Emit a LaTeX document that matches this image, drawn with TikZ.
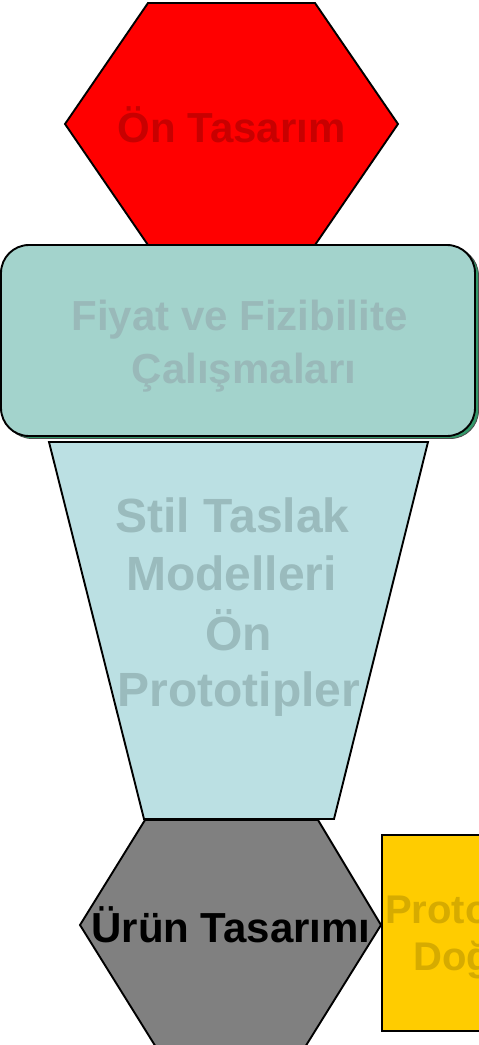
\documentclass[tikz,border=0pt]{standalone}
\usepackage{fontspec}
\setmainfont{Liberation Sans}
\definecolor{hexred}{HTML}{FF0000}
\definecolor{hexredtxt}{HTML}{C80000}
\definecolor{tealbox}{HTML}{A3D3CC}
\definecolor{tealshadow}{HTML}{33996A}
\definecolor{tealtxt}{HTML}{99B9B9}
\definecolor{funnel}{HTML}{BBE0E3}
\definecolor{funneltxt}{HTML}{9ABBBD}
\definecolor{hexgrey}{HTML}{808080}
\definecolor{goldbox}{HTML}{FFCC00}
\definecolor{goldtxt}{HTML}{D6AB00}
\begin{document}
\begin{tikzpicture}[x=1pt,y=-1pt,
  outline/.style={draw=black, line width=1.9pt, line join=miter},
  lbl/.style={anchor=base, inner sep=0pt, font=\bfseries\fontsize{42}{50}\selectfont},
  biglbl/.style={anchor=base, inner sep=0pt, font=\bfseries\fontsize{48}{58}\selectfont},
  sidelbl/.style={anchor=base west, inner sep=0pt, font=\bfseries\fontsize{40}{48}\selectfont, text=goldtxt}]
\useasboundingbox (0,0) rectangle (479,1045);
\clip (0,0) rectangle (479,1045);

% preliminary design hexagon
\draw[outline, fill=hexred] (148,3) -- (315,3) -- (398,124) -- (315,245) -- (148,245) -- (65,124) -- cycle;
\node[lbl, text=hexredtxt] (pre) at (231.5,142) {Ön Tasarım};

% cost and feasibility box with its shadow
\draw[fill=tealshadow, draw=black!70, line width=0.8pt, rounded corners=28pt] (4,247.5) rectangle (478.5,438.5);
\draw[outline, fill=tealbox, rounded corners=28pt] (1,245) rectangle (475,436);
\node[lbl, text=tealtxt] (fiz1) at (239.5,330) {Fiyat ve Fizibilite};
\node[lbl, text=tealtxt] (fiz2) at (244,383) {Çalışmaları};

% funnel of style models and prototypes
\draw[outline, fill=funnel] (49,442) -- (428,442) -- (334,819) -- (144,819) -- cycle;
\node[biglbl, text=funneltxt] (sty1) at (232.5,532) {Stil Taslak};
\node[biglbl, text=funneltxt] (sty2) at (231.5,590) {Modelleri};
\node[biglbl, text=funneltxt] (sty3) at (238.5,650) {Ön};
\node[biglbl, text=funneltxt] (sty4) at (239,706) {Prototipler};

% product design hexagon
\draw[outline, fill=hexgrey] (145,820) -- (318,820) -- (381,925) -- (297,1060) -- (164,1060) -- (80,925) -- cycle;

% prototype box at the right edge
\draw[outline, fill=goldbox] (382,835) rectangle (495,1031);
\begin{scope}
  \clip (383,836) rectangle (495,1030);
  \node[sidelbl] (pro1) at (385,923) {Prototip};
  \node[sidelbl] (pro2) at (413,970) {Doğrulama};
\end{scope}

\node[lbl, text=black] (urun) at (231,942) {Ürün Tasarımı};
\end{tikzpicture}
\end{document}
